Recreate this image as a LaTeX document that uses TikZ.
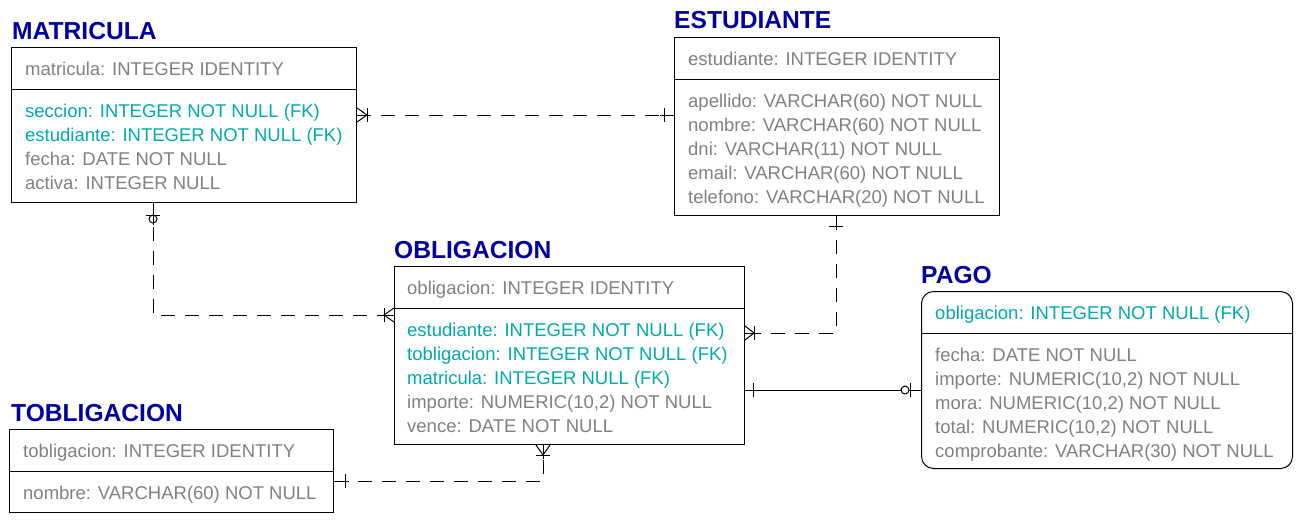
\documentclass[tikz,border=0pt]{standalone}
\usepackage{fontspec}
\setmainfont{Liberation Sans}
\usetikzlibrary{calc}
\definecolor{ttl}{RGB}{0,0,160}
\definecolor{gr}{RGB}{128,128,128}
\definecolor{fkc}{RGB}{0,170,170}
\tikzset{
 ebox/.style={draw, line width=1pt, inner sep=0pt, anchor=north west},
 ttlt/.style={anchor=base west, inner sep=0pt, text=ttl, font=\fontsize{24.6}{28}\selectfont\bfseries},
 attr/.style={anchor=base west, inner sep=0pt, text=gr, font=\fontsize{18.5}{20}\selectfont},
 fkattr/.style={attr, text=fkc},
 rel/.style={line width=1pt, dash pattern=on 14pt off 10pt},
 mk/.style={line width=1pt},
}
\begin{document}
\begin{tikzpicture}[x=1pt,y=-1pt]
\useasboundingbox (0,0) rectangle (1316,531);
% ---------- MATRICULA
\node[ttlt] (mat-t) at (12,39) {MATRICULA};
\node[ebox, minimum width=345pt, minimum height=155pt] (mat) at (11,47) {};
\draw[mk] (mat.west |- 0,89) -- (mat.east |- 0,89);
\node[attr] (mat-k) at (25,75) {matricula: INTEGER IDENTITY};
\node[fkattr] (mat-1) at (25,117) {seccion: INTEGER NOT NULL (FK)};
\node[fkattr] (mat-2) at (25,141) {estudiante: INTEGER NOT NULL (FK)};
\node[attr] (mat-3) at (25,165) {fecha: DATE NOT NULL};
\node[attr] (mat-4) at (25,189) {activa: INTEGER NULL};
% ---------- ESTUDIANTE
\node[ttlt] (est-t) at (674,28) {ESTUDIANTE};
\node[ebox, minimum width=325pt, minimum height=178pt] (est) at (674,37) {};
\draw[mk] (est.west |- 0,79) -- (est.east |- 0,79);
\node[attr] (est-k) at (688,65) {estudiante: INTEGER IDENTITY};
\node[attr] (est-1) at (688,107) {apellido: VARCHAR(60) NOT NULL};
\node[attr] (est-2) at (688,131) {nombre: VARCHAR(60) NOT NULL};
\node[attr] (est-3) at (688,155) {dni: VARCHAR(11) NOT NULL};
\node[attr] (est-4) at (688,179) {email: VARCHAR(60) NOT NULL};
\node[attr] (est-5) at (688,203) {telefono: VARCHAR(20) NOT NULL};
% ---------- OBLIGACION
\node[ttlt] (obl-t) at (394,258) {OBLIGACION};
\node[ebox, minimum width=350pt, minimum height=178pt] (obl) at (394,266) {};
\draw[mk] (obl.west |- 0,308) -- (obl.east |- 0,308);
\node[attr] (obl-k) at (407,294) {obligacion: INTEGER IDENTITY};
\node[fkattr] (obl-1) at (407,336) {estudiante: INTEGER NOT NULL (FK)};
\node[fkattr] (obl-2) at (407,360) {tobligacion: INTEGER NOT NULL (FK)};
\node[fkattr] (obl-3) at (407,384) {matricula: INTEGER NULL (FK)};
\node[attr] (obl-4) at (407,408) {importe: NUMERIC(10,2) NOT NULL};
\node[attr] (obl-5) at (407,432) {vence: DATE NOT NULL};
% ---------- PAGO
\node[ttlt] (pago-t) at (921,283) {PAGO};
\node[ebox, rounded corners=12pt, minimum width=371pt, minimum height=177pt] (pago) at (921,291) {};
\draw[mk] (pago.west |- 0,333) -- (pago.east |- 0,333);
\node[fkattr] (pago-k) at (935,319) {obligacion: INTEGER NOT NULL (FK)};
\node[attr] (pago-1) at (935,361) {fecha: DATE NOT NULL};
\node[attr] (pago-2) at (935,385) {importe: NUMERIC(10,2) NOT NULL};
\node[attr] (pago-3) at (935,409) {mora: NUMERIC(10,2) NOT NULL};
\node[attr] (pago-4) at (935,433) {total: NUMERIC(10,2) NOT NULL};
\node[attr] (pago-5) at (935,457) {comprobante: VARCHAR(30) NOT NULL};
% ---------- TOBLIGACION
\node[ttlt] (tob-t) at (11,421) {TOBLIGACION};
\node[ebox, minimum width=324pt, minimum height=83pt] (tob) at (9,429) {};
\draw[mk] (tob.west |- 0,471) -- (tob.east |- 0,471);
\node[attr] (tob-k) at (23,457) {tobligacion: INTEGER IDENTITY};
\node[attr] (tob-1) at (23,499) {nombre: VARCHAR(60) NOT NULL};
% ---------- connection points
\coordinate (a) at (mat.east |- 0,115);
\coordinate (b) at (est.west |- 0,115);
\coordinate (c) at (mat.south -| 153,0);
\coordinate (d) at (obl.west |- 0,315);
\coordinate (e) at (est.south -| 836,0);
\coordinate (f) at (obl.east |- 0,333);
\coordinate (g) at (obl.east |- 0,390);
\coordinate (h) at (pago.west |- 0,390);
\coordinate (i) at (tob.east |- 0,481);
\coordinate (j) at (obl.south -| 543,0);
% ---------- relationships
\draw[rel] (a) -- (b);
\draw[rel] (c) |- (d);
\draw[rel] (e) |- (f);
\draw[mk] (g) -- (h);
\draw[rel] (i) -| (j);
% ---------- markers
% a: many + one
\draw[mk] ($(a)+(0,-7)$) -- ($(a)+(10,0)$) -- ($(a)+(0,7)$);
\draw[mk] ($(a)+(10,-7)$) -- ($(a)+(10,7)$);
\draw[mk] (a) -- ($(a)+(14,0)$);
% b: one
\draw[mk] ($(b)+(-10,-7)$) -- ($(b)+(-10,7)$);
\draw[mk] (b) -- ($(b)+(-14,0)$);
% c: zero or one
\draw[mk] ($(c)+(-7,12)$) -- ($(c)+(7,12)$);
\draw[mk] (c) -- ($(c)+(0,22)$);
\draw[mk] ($(c)+(0,16)$) circle (4pt);
% d: many + one
\draw[mk] ($(d)+(0,-7)$) -- ($(d)+(-10,0)$) -- ($(d)+(0,7)$);
\draw[mk] ($(d)+(-10,-7)$) -- ($(d)+(-10,7)$);
\draw[mk] (d) -- ($(d)+(-14,0)$);
% e: one
\draw[mk] ($(e)+(-7,10)$) -- ($(e)+(7,10)$);
\draw[mk] (e) -- ($(e)+(0,14)$);
% f: many + one
\draw[mk] ($(f)+(0,-7)$) -- ($(f)+(9,0)$) -- ($(f)+(0,7)$);
\draw[mk] ($(f)+(9,-7)$) -- ($(f)+(9,7)$);
\draw[mk] (f) -- ($(f)+(13,0)$);
% g: one
\draw[mk] ($(g)+(8,-7)$) -- ($(g)+(8,7)$);
% h: zero or one
\draw[mk] ($(h)+(-11,-7)$) -- ($(h)+(-11,7)$);
\draw[mk,fill=white] ($(h)+(-16,0)$) circle (4pt);
% i: one
\draw[mk] ($(i)+(11,-7)$) -- ($(i)+(11,7)$);
\draw[mk] (i) -- ($(i)+(15,0)$);
% j: many + one
\draw[mk] ($(j)+(-7,0)$) -- ($(j)+(0,10)$) -- ($(j)+(7,0)$);
\draw[mk] ($(j)+(-7,10)$) -- ($(j)+(7,10)$);
\draw[mk] (j) -- ($(j)+(0,14)$);
\end{tikzpicture}
\end{document}
